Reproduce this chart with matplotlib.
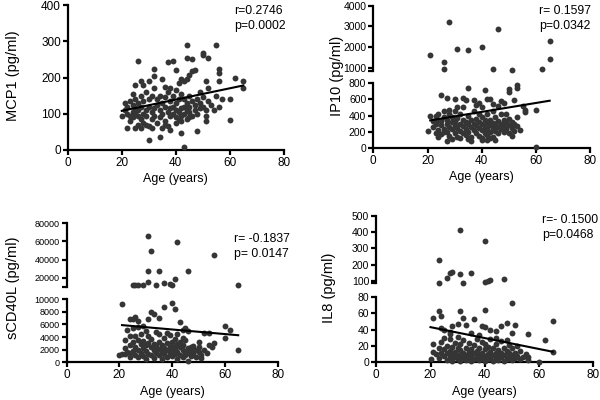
import numpy as np
import matplotlib.pyplot as plt

plt.rcParams['font.family'] = ['Liberation Sans', 'DejaVu Sans']

# ---- MCP1 ----
mcp1_age = [44, 55, 26, 37, 39, 50, 50, 52, 44, 46, 32, 40, 56, 56, 46, 47, 45, 44, 62, 65,
            65, 56, 60, 60, 52, 51, 49, 54, 51, 51, 48, 42, 43, 30, 34, 22, 25, 20, 25, 27,
            30, 32, 28, 24, 35, 36, 38, 41, 42, 43,
            21, 21, 22, 22, 23, 23, 24, 24, 24, 25, 25, 25, 26, 26, 26, 27, 27, 27, 28, 28,
            28, 29, 29, 29, 30, 30, 30, 31, 31, 31, 32, 32, 32, 33, 33, 33, 34, 34, 34, 35,
            35, 35, 36, 36, 36, 37, 37, 37, 38, 38, 38, 39, 39, 39, 40, 40, 40, 40, 41, 41,
            41, 42, 42, 42, 43, 43, 43, 44, 44, 44, 45, 45, 45, 46, 46, 47, 47, 48, 48, 49,
            49, 50, 50, 51, 52, 53, 55, 56, 57, 36, 38, 31, 29, 27, 40, 42, 45, 23, 26]
mcp1_val = [289, 289, 246, 243, 245, 268, 263, 255, 254, 250, 224, 222, 224, 213, 218, 220, 207, 197, 200, 189,
            170, 190, 141, 83, 171, 190, 160, 109, 93, 79, 53, 46, 9, 28, 37, 62, 62, 93, 180, 191,
            189, 205, 178, 155, 196, 175, 170, 185, 195, 190,
            110, 130, 100, 120, 95, 135, 105, 90, 125, 115, 100, 140, 95, 130, 110, 85, 120, 150, 100, 135,
            75, 110, 95, 160, 120, 140, 65, 105, 150, 85, 115, 170, 95, 125, 75, 140, 110, 150, 90, 130,
            100, 60, 120, 145, 80, 105, 160, 65, 115, 135, 95, 100, 150, 120, 110, 90, 165, 130, 105, 140,
            85, 115, 155, 95, 120, 100, 140, 110, 130, 85, 150, 105, 120, 95, 135, 125, 110, 140, 100, 130,
            115, 120, 145, 110, 135, 125, 150, 120, 140, 70, 55, 60, 70, 60, 75, 80, 90, 80, 70]
mcp1_fit_x = [20, 65]
mcp1_fit_y = [108, 178]

# ---- IP10 ----
ip10_age = [28, 46, 21, 31, 35, 40, 26, 26, 44, 51, 62, 65, 65,
            53, 53, 50, 50, 35, 41, 25, 27, 30, 33, 34, 37, 42, 43, 47, 52, 55, 56, 60, 54, 60, 20,
            21, 56, 48, 44, 38,
            22, 22, 23, 23, 23, 24, 24, 24, 25, 25, 25, 26, 26, 26, 27, 27, 27, 28, 28, 28,
            29, 29, 29, 30, 30, 30, 30, 31, 31, 31, 31, 32, 32, 32, 33, 33, 33, 34, 34, 34,
            35, 35, 35, 36, 36, 36, 37, 37, 37, 38, 38, 38, 39, 39, 39, 39, 40, 40, 40, 40,
            40, 41, 41, 41, 42, 42, 42, 42, 43, 43, 43, 44, 44, 44, 44, 45, 45, 45, 46, 46,
            46, 47, 47, 47, 48, 48, 48, 49, 49, 50, 50, 50, 51, 51, 52, 52, 53, 53, 40, 42,
            29, 27, 36, 45, 32, 24, 51, 49, 46, 39, 33, 28, 26, 35, 43]
ip10_val = [3200, 2870, 1600, 1900, 1840, 1980, 1270, 950, 950, 870, 950, 2270, 1400,
            780, 740, 730, 690, 740, 720, 650, 615, 600, 610, 595, 590, 600, 600, 575, 590, 520, 470, 470, 225, 8, 210,
            390, 440, 560, 540, 530,
            330, 260, 400, 190, 300, 350, 220, 420, 280, 330, 170, 380, 240, 460, 300, 200, 350, 260, 420, 150,
            320, 230, 380, 280, 190, 450, 330, 250, 370, 140, 500, 300, 210, 420, 270, 180, 350, 230, 320, 160,
            290, 400, 200, 260, 340, 130, 300, 220, 450, 280, 180, 360, 250, 320, 150, 420, 300, 220, 380, 120,
            500, 270, 190, 340, 310, 230, 160, 420, 280, 350, 200, 250, 310, 140, 460, 290, 210, 380, 260, 330,
            180, 300, 240, 420, 270, 200, 350, 310, 230, 280, 360, 190, 250, 320, 300, 210, 380, 270, 95, 100,
            110, 85, 90, 100, 120, 130, 150, 420, 520, 560, 510, 470, 200, 110, 120]
ip10_fit_x = [21, 65]
ip10_fit_y = [340, 582]

# ---- sCD40L ----
cd40_age = [31, 32, 42, 56, 31, 35, 46, 31, 25, 26, 27, 29, 34, 37, 39, 40, 41, 65,
            21, 40, 41, 37, 32, 33, 31, 35, 26, 25, 24, 27, 43, 60, 62, 60, 65, 54, 52, 45, 44, 50,
            47,
            20, 21, 22, 22, 23, 23, 24, 24, 24, 25, 25, 25, 26, 26, 26, 27, 27, 27, 28, 28,
            28, 29, 29, 29, 30, 30, 30, 30, 31, 31, 31, 32, 32, 32, 33, 33, 33, 34, 34, 34,
            35, 35, 35, 36, 36, 36, 37, 37, 37, 38, 38, 38, 39, 39, 39, 40, 40, 40, 40, 41,
            41, 41, 42, 42, 42, 43, 43, 43, 44, 44, 44, 45, 45, 45, 46, 46, 46, 47, 47, 48,
            48, 49, 49, 50, 50, 51, 51, 52, 53, 54, 55, 56, 42, 38, 35, 29, 27, 44, 46, 24,
            22]
cd40_val = [66000, 49000, 59000, 45000, 27000, 27000, 27000, 15000, 12000, 12000, 12000, 12000, 12000, 14500, 13000, 12000, 19000, 11500,
            9200, 9400, 8400, 8800, 8000, 7700, 6800, 7000, 7200, 6900, 6800, 6600, 6400, 5700, 5200, 3800, 1900, 4700, 4700, 5400, 5100, 2400,
            2500,
            1200, 1300, 3500, 2200, 5200, 1600, 4200, 2800, 900, 3300, 1800, 5500, 2500, 1200, 4100, 2000, 3600, 800, 2900, 1500,
            4500, 2200, 1000, 3400, 1800, 2700, 5000, 600, 3000, 1400, 4200, 2400, 1100, 3700, 1900, 2900, 700, 2600, 1500, 4800,
            2100, 1200, 3300, 2800, 1700, 500, 2300, 3900, 1300, 2000, 3000, 900, 2500, 1500, 4300, 1800, 3200, 1000, 2600, 2200,
            1300, 3700, 2900, 1600, 600, 2400, 1100, 3300, 2000, 2800, 800, 1700, 3600, 1200, 2300, 1500, 300, 1900, 1000, 2600,
            1400, 2000, 900, 1600, 3300, 1200, 700, 2000, 1500, 2800, 2500, 3000, 4500, 4600, 4500, 5800, 5600, 3900, 4900, 1500,
            1400]
cd40_fit_x = [21, 65]
cd40_fit_y = [5900, 4300]

# ---- IL8 ----
il8_age = [31, 40, 23, 23, 26, 27, 28, 31, 35, 32, 40, 41, 42, 47,
           50, 40, 31, 23, 21, 24, 32, 36, 65, 51, 48, 46, 39, 40, 42, 30, 28, 33, 56, 62, 65, 60,
           20, 21, 21, 25, 27, 44, 35, 50,
           22, 23, 23, 24, 24, 25, 25, 25, 26, 26, 26, 27, 27, 27, 28, 28, 28, 29, 29, 29,
           30, 30, 30, 30, 31, 31, 31, 31, 32, 32, 32, 33, 33, 33, 34, 34, 34, 35, 35, 35,
           36, 36, 36, 37, 37, 37, 38, 38, 38, 39, 39, 39, 40, 40, 40, 40, 41, 41, 41, 42,
           42, 42, 43, 43, 43, 44, 44, 44, 45, 45, 45, 46, 46, 46, 47, 47, 47, 48, 48, 49,
           49, 49, 50, 50, 50, 51, 51, 52, 53, 53, 54, 55, 56, 56, 38, 44, 27, 24, 48, 52]
il8_val = [410, 346, 227, 88, 115, 146, 155, 141, 150, 86, 90, 96, 102, 108,
           73, 64, 63, 63, 54, 56, 54, 53, 51, 46, 48, 45, 44, 43, 40, 47, 45, 46, 35, 27, 13, 1,
           4, 13, 22, 40, 37, 38, 36, 36,
           10, 18, 5, 12, 25, 8, 16, 30, 3, 11, 20, 7, 14, 28, 2, 10, 19, 6, 13, 24,
           4, 9, 17, 31, 2, 8, 15, 22, 5, 11, 27, 3, 9, 18, 6, 13, 24, 2, 8, 16,
           4, 11, 21, 7, 14, 29, 3, 9, 18, 5, 12, 25, 2, 8, 16, 22, 4, 10, 19, 6,
           13, 28, 2, 9, 17, 5, 11, 23, 3, 8, 15, 6, 12, 26, 2, 9, 18, 4, 14, 7,
           11, 21, 3, 9, 17, 5, 12, 8, 4, 14, 6, 10, 3, 7, 33, 30, 35, 42, 27, 20]
il8_fit_x = [20, 65]
il8_fit_y = [43, 13]

dot = '#353535'
fig = plt.figure(figsize=(6, 4), dpi=100)


def style(ax, ysize, bottom=True):
    for s in ['top', 'right']:
        ax.spines[s].set_visible(False)
    for s in ['left', 'bottom']:
        ax.spines[s].set_linewidth(1.6)
    ax.tick_params(width=1.6, length=3.5, labelsize=ysize, pad=1.5, which='both')
    ax.tick_params(axis='x', labelsize=8.5)
    if not bottom:
        ax.spines['bottom'].set_visible(False)
        ax.tick_params(axis='x', bottom=False, labelbottom=False)


# panel 1: MCP1 (plain axis)
ax1 = fig.add_axes([0.113, 0.625, 0.36, 0.3625])
ax1.scatter(mcp1_age, mcp1_val, s=18, color=dot, linewidths=0, clip_on=False, zorder=3)
ax1.plot(mcp1_fit_x, mcp1_fit_y, color='black', lw=1.5, zorder=4)
ax1.set_xlim(0, 80)
ax1.set_ylim(0, 400)
ax1.set_xticks([0, 20, 40, 60, 80])
ax1.set_yticks([0, 100, 200, 300, 400])
style(ax1, 8.5)
ax1.set_xlabel('Age (years)', fontsize=9, labelpad=3)
fig.text(0.022, 0.81, 'MCP1 (pg/ml)', rotation=90, fontsize=10.5, ha='center', va='center')
fig.text(0.39, 0.9875, 'r=0.2746\np=0.0002', fontsize=8.8, va='top', ha='left', linespacing=1.3)


def broken(lo_box, hi_box, age, val, fx, fy, lo_lim, hi_lim, lo_ticks, hi_ticks, ysize):
    age = np.asarray(age)
    val = np.asarray(val)
    lo = fig.add_axes(lo_box)
    hi = fig.add_axes(hi_box)
    m = val <= lo_lim[1]
    lo.scatter(age[m], val[m], s=18, color=dot, linewidths=0, clip_on=False, zorder=3)
    m = val >= hi_lim[0]
    hi.scatter(age[m], val[m], s=18, color=dot, linewidths=0, clip_on=False, zorder=3)
    lo.plot(fx, fy, color='black', lw=1.5, zorder=4)
    for a in (lo, hi):
        a.set_xlim(0, 80)
    lo.set_ylim(*lo_lim)
    hi.set_ylim(*hi_lim)
    lo.set_yticks(lo_ticks)
    hi.set_yticks(hi_ticks)
    hi.set_yticks([hi_lim[0]], minor=True)
    lo.set_xticks([0, 20, 40, 60, 80])
    style(lo, ysize)
    style(hi, ysize, bottom=False)
    return lo, hi


# panel 2: IP10
lo2, hi2 = broken([0.622, 0.63, 0.362, 0.1625], [0.622, 0.823, 0.362, 0.163],
                  ip10_age, ip10_val, ip10_fit_x, ip10_fit_y,
                  (0, 800), (850, 4000), [0, 200, 400, 600, 800], [1000, 2000, 3000, 4000], 7.5)
lo2.set_xlabel('Age (years)', fontsize=9, labelpad=3)
fig.text(0.562, 0.81, 'IP10 (pg/ml)', rotation=90, fontsize=10.5, ha='center', va='center')
fig.text(0.898, 0.9875, 'r= 0.1597\np=0.0342', fontsize=8.8, va='top', ha='left', linespacing=1.3)

# panel 3: sCD40L
lo3, hi3 = broken([0.111, 0.094, 0.352, 0.158], [0.111, 0.283, 0.352, 0.159],
                  cd40_age, cd40_val, cd40_fit_x, cd40_fit_y,
                  (0, 10000), (10000, 80000), [0, 2000, 4000, 6000, 8000, 10000],
                  [20000, 40000, 60000, 80000], 6.5)
lo3.set_xlabel('Age (years)', fontsize=9, labelpad=3)
fig.text(0.022, 0.28, 'sCD40L (pg/ml)', rotation=90, fontsize=10.5, ha='center', va='center')
fig.text(0.39, 0.418, 'r= -0.1837\np= 0.0147', fontsize=8.8, va='top', ha='left', linespacing=1.3)

# panel 4: IL8
lo4, hi4 = broken([0.627, 0.094, 0.362, 0.164], [0.627, 0.292, 0.362, 0.1685],
                  il8_age, il8_val, il8_fit_x, il8_fit_y,
                  (0, 80), (85, 500), [0, 20, 40, 60, 80], [100, 200, 300, 400, 500], 7.5)
lo4.set_xlabel('Age (years)', fontsize=9, labelpad=3)
fig.text(0.548, 0.28, 'IL8 (pg/ml)', rotation=90, fontsize=10.5, ha='center', va='center')
fig.text(0.903, 0.465, 'r=- 0.1500\np=0.0468', fontsize=8.8, va='top', ha='left', linespacing=1.3)

fig.savefig('out.png', dpi=100)
